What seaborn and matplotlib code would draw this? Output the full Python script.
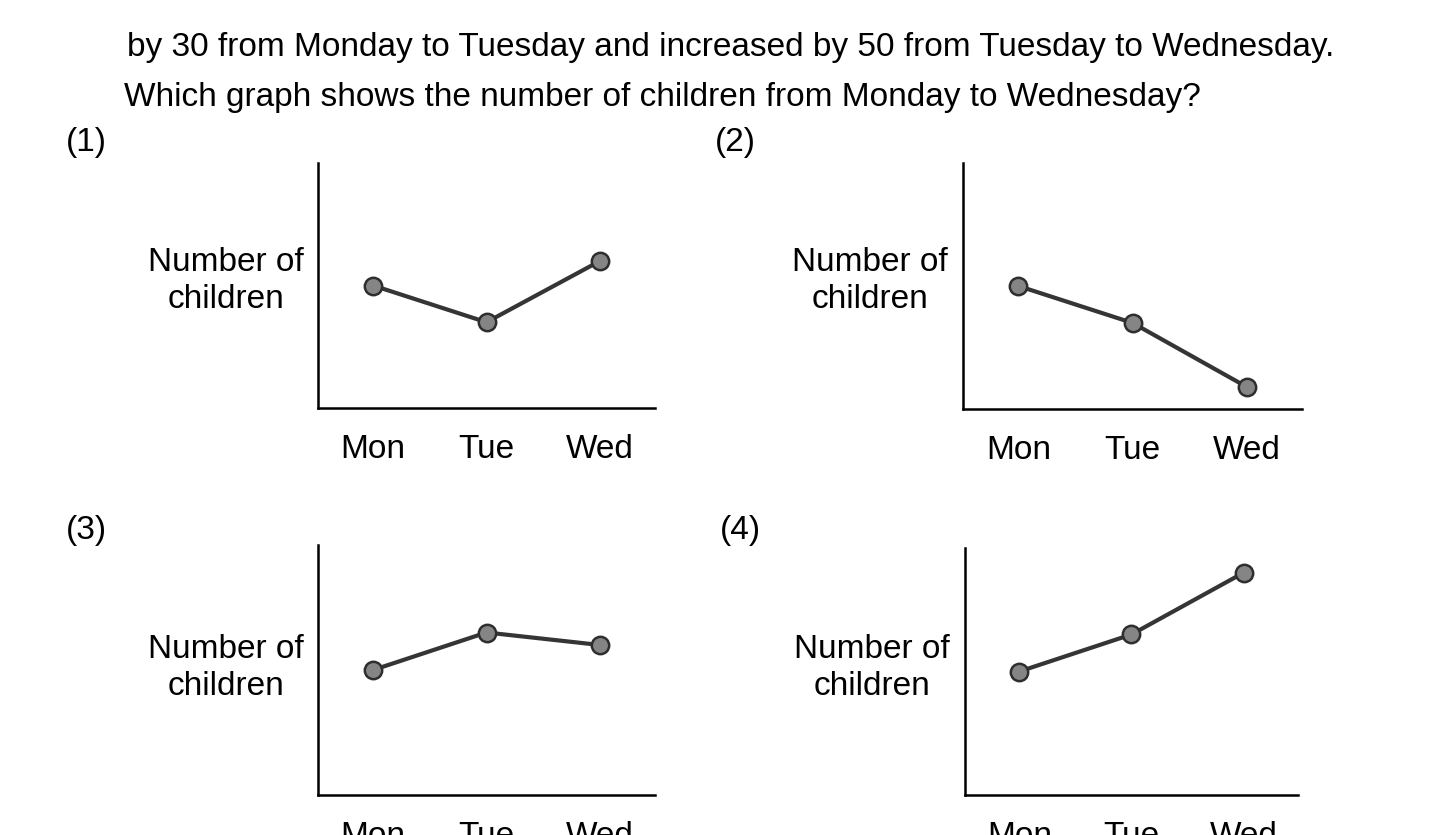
import matplotlib
matplotlib.use("Agg")
import matplotlib.pyplot as plt
import seaborn as sns
import pandas as pd

# ---- data ----
days = ["Mon", "Tue", "Wed"]
graph1 = [50, 35, 60]
graph2 = [50, 35, 9]
graph3 = [50, 65, 60]
graph4 = [50, 65, 90]
panel_labels = ["(1)", "(2)", "(3)", "(4)"]
y_label_lines = ["Number of", "children"]
line1 = "by 30 from Monday to Tuesday and increased by 50 from Tuesday to Wednesday."
line2 = "Which graph shows the number of children from Monday to Wednesday?"

sns.set_style("white")
plt.rcParams["font.family"] = ["Liberation Sans", "DejaVu Sans"]
plt.rcParams["text.color"] = "black"
plt.rcParams["xtick.color"] = "black"

W, H = 1431, 835
fig = plt.figure(figsize=(W / 100, H / 100), dpi=100)
fig.patch.set_facecolor("white")

def px(x, y):
    return x / W, 1 - y / H

# axes rectangles in pixels: left, top, right, bottom
rects = [
    (318, 163, 655, 408),
    (963, 163, 1302, 409),
    (318, 545, 655, 795),
    (965, 548, 1298, 795),
]
series = [graph1, graph2, graph3, graph4]
label_pos = [(86, 143), (735, 143), (86, 530), (740, 531)]
# x centre, baseline of first line, baseline of second line
ylabel_pos = [(226, 271, 308), (870, 271, 308), (226, 658, 695), (872, 658, 695)]

FS = 24

for i, ((l, t, r, b), vals) in enumerate(zip(rects, series)):
    ax = fig.add_axes([l / W, 1 - b / H, (r - l) / W, (b - t) / H])
    df = pd.DataFrame({"day": days, "value": vals})
    sns.lineplot(data=df, x="day", y="value", ax=ax, color="#353535",
                 linewidth=3.0, marker="o", markersize=12.5,
                 markerfacecolor="#858585", markeredgecolor="#2e2e2e",
                 markeredgewidth=1.8, sort=False)
    ax.set_xlim(-0.485, 2.485)
    ax.set_ylim(0, 100)
    ax.set_xlabel("")
    ax.set_ylabel("")
    ax.set_yticks([])
    ax.set_xticks(range(len(days)))
    ax.set_xticklabels(days, fontsize=FS, color="black")
    ax.tick_params(axis="x", length=0, pad=19)
    for side in ["top", "right"]:
        ax.spines[side].set_visible(False)
    for side in ["left", "bottom"]:
        ax.spines[side].set_color("black")
        ax.spines[side].set_linewidth(1.8)
    x, y = px(*label_pos[i])
    fig.text(x, y, panel_labels[i], fontsize=FS, ha="center", va="center",
             color="black")
    cx, b1, b2 = ylabel_pos[i]
    for txt, by in zip(y_label_lines, (b1, b2)):
        x, y = px(cx, by)
        fig.text(x, y, txt, fontsize=FS, ha="center", va="baseline",
                 color="black")

x, y = px(127, 56)
fig.text(x, y, line1, fontsize=FS, ha="left", va="baseline", color="black")
x, y = px(124, 106)
fig.text(x, y, line2, fontsize=FS, ha="left", va="baseline", color="black")

fig.savefig("out.png", dpi=100, facecolor="white")
